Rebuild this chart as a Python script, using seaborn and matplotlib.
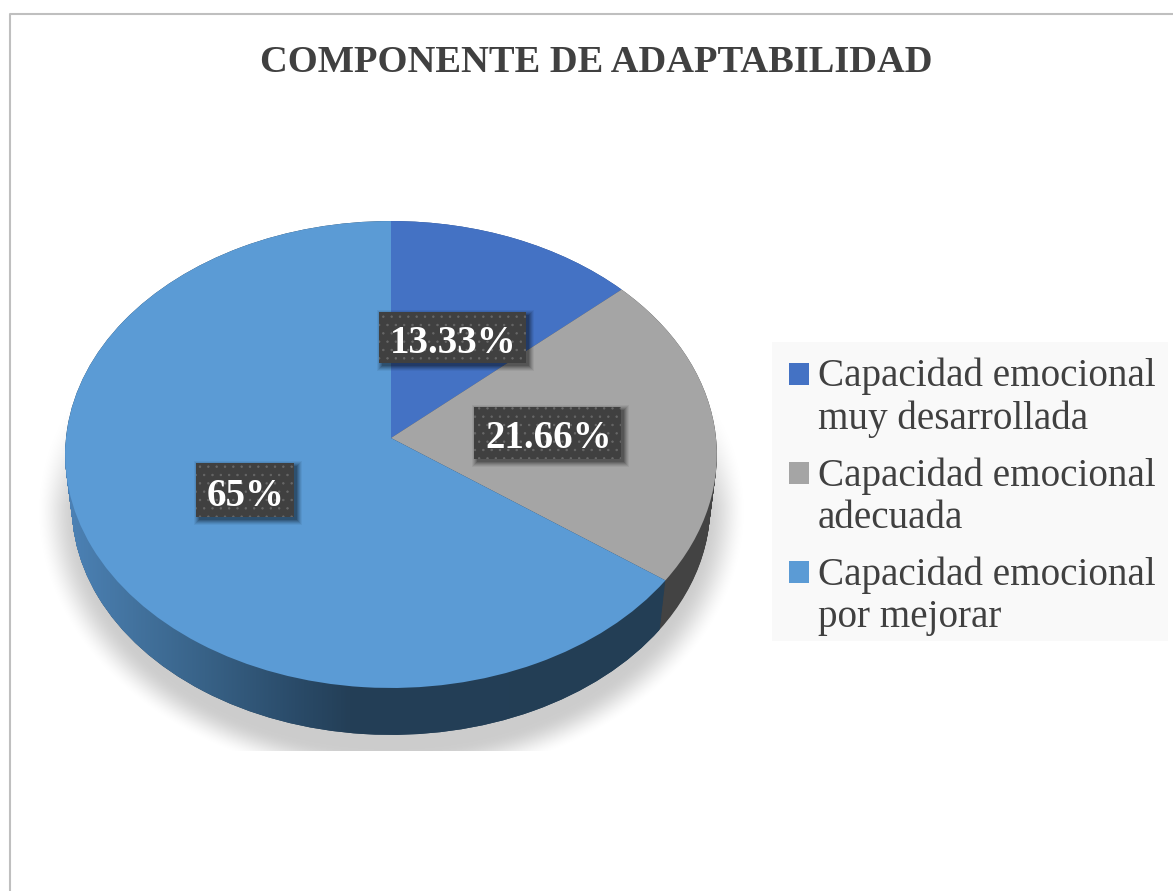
import numpy as np
import matplotlib
matplotlib.use('Agg')
import matplotlib.pyplot as plt
import seaborn as sns
from matplotlib.colors import LinearSegmentedColormap
from matplotlib.legend_handler import HandlerPatch
from matplotlib.patches import PathPatch, Rectangle, Wedge
from matplotlib.path import Path
from matplotlib.transforms import Transform

# --- Chart data ---
categories = ['Capacidad emocional\nmuy desarrollada',
              'Capacidad emocional\nadecuada',
              'Capacidad emocional\npor mejorar']
values = [13.33, 21.66, 65]
value_labels = ['13.33%', '21.66%', '65%']
title = 'COMPONENTE DE ADAPTABILIDAD'

sns.set_theme(style='white')
plt.rcParams['font.family'] = ['Liberation Serif', 'DejaVu Serif']
top_colors = sns.color_palette(['#4472C4', '#A5A5A5', '#5B9BD5'])
wall_colors = ['#2a4a80', '#434343', '#233E55']
TEXT = '#404040'

# where the label boxes sit, in pixels (left, top, right, bottom)
label_boxes = [(379, 312, 526, 363), (474, 407, 621, 459), (196, 463, 294, 517)]


class Tilted(Transform):
    """Perspective view of the flat pie, from the unit disc to pixels."""
    input_dims = 2
    output_dims = 2

    def __init__(self, scale=1.0, drop=0.0):
        super().__init__()
        self.scale = scale
        self.drop = drop

    def transform_non_affine(self, xy):
        xy = np.asarray(xy)
        w = 1 + 0.0707 * xy[:, 1]
        px = 391 + self.scale * 325 * xy[:, 0] / w
        py = 438 + self.drop - self.scale * 232.3 * xy[:, 1] / w
        return np.column_stack([px, py])


def draw_pie(colors, proj, zorder):
    wedges, _ = ax.pie(values, colors=colors, startangle=90, counterclock=False,
                       wedgeprops={'linewidth': 0, 'zorder': zorder})
    for w in wedges:
        w.set_transform(proj + ax.transData)
    return wedges


fig = plt.figure(figsize=(11.73, 8.91), dpi=100, facecolor='white')
ax = fig.add_axes([0, 0, 1, 1])

# soft shadow under the pie
yy, xx = np.mgrid[0:891, 0:1173]
r = np.sqrt(((xx - 391) / 356) ** 2 + ((yy - 510) / 272) ** 2)
shade = np.clip((1 - r) / 0.12, 0, 1)
shade = shade * shade * (3 - 2 * shade)
shade *= np.clip((yy - 375) / 130, 0, 1)
shade[yy > 750] = 0
rgba = np.zeros(shade.shape + (4,))
rgba[..., 3] = shade * 0.2
ax.imshow(rgba, extent=(0, 1173, 891, 0), aspect='auto', zorder=0, interpolation='bilinear')

# side wall, stacked copies of the pie going down
wall_paths = []
for t in np.linspace(1, 0, 48):
    proj = Tilted(scale=1 - 0.0205 * t, drop=52 * t)
    wedges = draw_pie(wall_colors, proj, 1)
    wall_paths.append(proj.transform_path(wedges[2].get_path()))

# the blue part of the wall gets darker to the right
wall_cmap = LinearSegmentedColormap.from_list('wall', [
    (0.0, '#4C82B6'), (0.11, '#43739F'), (0.23, '#386287'),
    (0.38, '#2A4B69'), (0.47, '#243F57'), (1.0, '#233E55')])
clip = PathPatch(Path.make_compound_path(*wall_paths), transform=ax.transData,
                 facecolor='none', edgecolor='none')
ax.add_patch(clip)
wall_img = ax.imshow(np.linspace(0, 1, 256)[None, :], cmap=wall_cmap, aspect='auto',
                     extent=(65, 670, 760, 440), zorder=1.5)
wall_img.set_clip_path(clip)

# top face
top_wedges = draw_pie(top_colors, Tilted(), 2)

# value labels in dark dotted boxes
plt.rcParams['hatch.linewidth'] = 0.5
for (x0, y0, x1, y1), text in zip(label_boxes, value_labels):
    for grow, alpha in zip([5, 4, 3, 2, 1, 0], [0.05, 0.07, 0.09, 0.11, 0.13, 0.15]):
        ax.add_patch(Rectangle((x0 + 3 - grow, y0 + 3 - grow), x1 - x0 + 2 * grow, y1 - y0 + 2 * grow,
                               facecolor='black', edgecolor='none', alpha=alpha, zorder=3))
    ax.add_patch(Rectangle((x0, y0), x1 - x0, y1 - y0, facecolor='#404040', edgecolor='#686868',
                           hatch='..', linewidth=0, zorder=4))
    ax.text((x0 + x1) / 2 + 1, (y0 + y1) / 2 + 6, text, color='white', fontsize=28, fontweight='bold',
            ha='center', va='center', zorder=5)

# frame and title
ax.plot([10, 10, 1173], [891, 14, 14], color='#BFBFBF', lw=1.5, zorder=6, clip_on=False)
ax.text(596, 63, title, color=TEXT, fontsize=27.7, fontweight='bold', ha='center', va='center', zorder=6)

# legend panel
ax.add_patch(Rectangle((772, 342), 396, 299, facecolor='#F9F9F9', edgecolor='none', zorder=6))


def first_line_square(legend, orig_handle, xdescent, ydescent, width, height, fontsize):
    return Rectangle((-xdescent, -ydescent + 17.5), width, height)


leg = ax.legend(top_wedges, categories, loc='upper left', bbox_to_anchor=(777 / 1173, 1 - 346 / 891),
                borderaxespad=0, frameon=False, fontsize=28.2, labelcolor=TEXT,
                handlelength=0.52, handleheight=0.5, handletextpad=0.22, labelspacing=0.48, borderpad=0.3,
                handler_map={Wedge: HandlerPatch(patch_func=first_line_square)})
leg.set_zorder(7)

ax.set_xlim(0, 1173)
ax.set_ylim(891, 0)
ax.set_aspect('auto')
ax.axis('off')

fig.savefig('out.png', dpi=100)
